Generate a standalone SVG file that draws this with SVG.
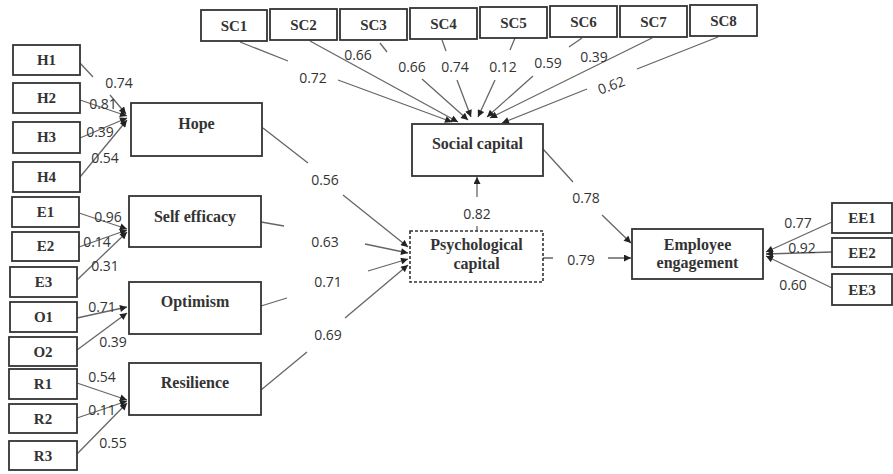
<svg xmlns="http://www.w3.org/2000/svg" width="893" height="474" viewBox="0 0 893 474">
<style>
.box{fill:#fff;stroke:#333;stroke-width:1.8}
.dash{fill:#fff;stroke:#333;stroke-width:1.6;stroke-dasharray:3,2}
.ind{font-family:"Liberation Serif",serif;font-weight:bold;font-size:15px;fill:#333;text-anchor:middle}
.lat{font-family:"Liberation Serif",serif;font-weight:bold;font-size:16px;fill:#333;text-anchor:middle}
.num{font-family:"Open Sans","Liberation Sans",sans-serif;font-size:14px;fill:#333;text-anchor:middle}
.c path{fill:none;stroke:#666;stroke-width:1.3}
</style>
<defs>
<marker id="ah" viewBox="0 0 10 10" refX="10" refY="5" markerWidth="8" markerHeight="7" markerUnits="userSpaceOnUse" orient="auto"><path d="M0,0 L10,5 L0,10 z" fill="#222"/></marker>
</defs>
<rect width="893" height="474" fill="#fff"/>
<g class="c" id="connectors">
<path d="M240,42 L288,61 M338,80 L452,122" marker-end="url(#ah)"/>
<path d="M310,41 L458,122" marker-end="url(#ah)"/>
<path d="M380,43 L387,52 M422,79 L468,120" marker-end="url(#ah)"/>
<path d="M442,40 L446,51 M457,80 L471,117" marker-end="url(#ah)"/>
<path d="M515,38 L510,50 M495,80 L478,117" marker-end="url(#ah)"/>
<path d="M582,38 L569,47 M533,76 L487,117" marker-end="url(#ah)"/>
<path d="M652,38 L490,118" marker-end="url(#ah)"/>
<path d="M718,37 L637,69 M587,89 L502,123" marker-end="url(#ah)"/>
<path d="M80,63 L93,77 M110,95 L126,114" marker-end="url(#ah)"/>
<path d="M80,100 L127,116" marker-end="url(#ah)"/>
<path d="M80,138 L127,118" marker-end="url(#ah)"/>
<path d="M80,177 L127,120" marker-end="url(#ah)"/>
<path d="M79,213 L127,229" marker-end="url(#ah)"/>
<path d="M79,247 L127,230" marker-end="url(#ah)"/>
<path d="M77,280 L127,232" marker-end="url(#ah)"/>
<path d="M77,318 L127,307" marker-end="url(#ah)"/>
<path d="M77,350 L127,313" marker-end="url(#ah)"/>
<path d="M77,383 L127,400" marker-end="url(#ah)"/>
<path d="M77,418 L127,401" marker-end="url(#ah)"/>
<path d="M77,454 L127,403" marker-end="url(#ah)"/>
<path d="M263,128 L308,163 M343,195 L408,247" marker-end="url(#ah)"/>
<path d="M261,222 L284,226 M365,244 L408,253" marker-end="url(#ah)"/>
<path d="M261,306 L287,298 M368,271 L408,259" marker-end="url(#ah)"/>
<path d="M261,390 L307,352 M345,318 L408,265" marker-end="url(#ah)"/>
<path d="M477,231 L477,226 M477,197 L477,177" marker-end="url(#ah)"/>
<path d="M543,149 L573,182 M602,215 L631,243" marker-end="url(#ah)"/>
<path d="M543,258 L553,258 M608,258 L631,258" marker-end="url(#ah)"/>
<path d="M832,222 L766,252" marker-end="url(#ah)"/>
<path d="M832,252 L766,254" marker-end="url(#ah)"/>
<path d="M832,288 L766,256" marker-end="url(#ah)"/>
</g>
<g id="labels">
<text class="num" x="313" y="83">0.72</text>
<text class="num" x="358" y="60">0.66</text>
<text class="num" x="412" y="72">0.66</text>
<text class="num" x="455" y="72">0.74</text>
<text class="num" x="503" y="72">0.12</text>
<text class="num" x="548" y="68">0.59</text>
<text class="num" x="594" y="62">0.39</text>
<text class="num" transform="translate(613,90) rotate(-20)">0.62</text>
<text class="num" x="119" y="88">0.74</text>
<text class="num" x="103" y="109">0.81</text>
<text class="num" x="100" y="137">0.39</text>
<text class="num" x="105" y="163">0.54</text>
<text class="num" x="108" y="222">0.96</text>
<text class="num" x="97" y="247">0.14</text>
<text class="num" x="105" y="271">0.31</text>
<text class="num" x="102" y="312">0.71</text>
<text class="num" x="113" y="347">0.39</text>
<text class="num" x="102" y="382">0.54</text>
<text class="num" x="102" y="415">0.11</text>
<text class="num" x="113" y="448">0.55</text>
<text class="num" x="325" y="185">0.56</text>
<text class="num" x="325" y="247">0.63</text>
<text class="num" x="328" y="287">0.71</text>
<text class="num" x="328" y="340">0.69</text>
<text class="num" x="477" y="219">0.82</text>
<text class="num" x="586" y="203">0.78</text>
<text class="num" x="581" y="265">0.79</text>
<text class="num" x="798" y="228">0.77</text>
<text class="num" x="802" y="253">0.92</text>
<text class="num" x="793" y="290">0.60</text>
</g>
<g id="SC1"><rect class="box" x="201" y="10" width="66" height="31"/><text class="ind" x="234" y="31">SC1</text></g>
<g id="SC2"><rect class="box" x="270" y="9" width="67" height="31"/><text class="ind" x="303.5" y="30">SC2</text></g>
<g id="SC3"><rect class="box" x="340" y="9" width="67" height="31"/><text class="ind" x="373.5" y="30">SC3</text></g>
<g id="SC4"><rect class="box" x="410" y="8" width="67" height="31"/><text class="ind" x="443.5" y="29">SC4</text></g>
<g id="SC5"><rect class="box" x="480" y="7" width="67" height="31"/><text class="ind" x="513.5" y="28">SC5</text></g>
<g id="SC6"><rect class="box" x="550" y="6" width="67" height="31"/><text class="ind" x="583.5" y="27">SC6</text></g>
<g id="SC7"><rect class="box" x="620" y="6" width="67" height="31"/><text class="ind" x="653.5" y="27">SC7</text></g>
<g id="SC8"><rect class="box" x="690" y="5" width="67" height="31"/><text class="ind" x="723.5" y="26">SC8</text></g>
<g id="H1"><rect class="box" x="13" y="45" width="67" height="30"/><text class="ind" x="46.5" y="65">H1</text></g>
<g id="H2"><rect class="box" x="13" y="83" width="67" height="30"/><text class="ind" x="46.5" y="103">H2</text></g>
<g id="H3"><rect class="box" x="13" y="122" width="67" height="31"/><text class="ind" x="46.5" y="142">H3</text></g>
<g id="H4"><rect class="box" x="13" y="162" width="67" height="30"/><text class="ind" x="46.5" y="182">H4</text></g>
<g id="E1"><rect class="box" x="12" y="197" width="67" height="30"/><text class="ind" x="45.5" y="217">E1</text></g>
<g id="E2"><rect class="box" x="12" y="232" width="67" height="29"/><text class="ind" x="45.5" y="251">E2</text></g>
<g id="E3"><rect class="box" x="10" y="267" width="67" height="30"/><text class="ind" x="43.5" y="287">E3</text></g>
<g id="O1"><rect class="box" x="10" y="302" width="67" height="30"/><text class="ind" x="43.5" y="322">O1</text></g>
<g id="O2"><rect class="box" x="9" y="337" width="68" height="29"/><text class="ind" x="43" y="357">O2</text></g>
<g id="R1"><rect class="box" x="9" y="369" width="68" height="30"/><text class="ind" x="43" y="389">R1</text></g>
<g id="R2"><rect class="box" x="9" y="404" width="68" height="29"/><text class="ind" x="43" y="424">R2</text></g>
<g id="R3"><rect class="box" x="9" y="441" width="68" height="29"/><text class="ind" x="43" y="461">R3</text></g>
<g id="Hope"><rect class="box" x="131" y="103" width="131" height="53"/><text class="lat" x="196.5" y="129">Hope</text></g>
<g id="SelfEfficacy"><rect class="box" x="129" y="196" width="132" height="51"/><text class="lat" x="195" y="222">Self efficacy</text></g>
<g id="Optimism"><rect class="box" x="129" y="282" width="132" height="52"/><text class="lat" x="195" y="307">Optimism</text></g>
<g id="Resilience"><rect class="box" x="129" y="363" width="132" height="52"/><text class="lat" x="195" y="388">Resilience</text></g>
<g id="SocialCapital"><rect class="box" x="412" y="124" width="131" height="52"/><text class="lat" x="477.5" y="149">Social capital</text></g>
<g id="PsychologicalCapital"><rect class="dash" x="410" y="231" width="133" height="51"/><text class="lat" x="476.5" y="250">Psychological</text><text class="lat" x="476.5" y="269">capital</text></g>
<g id="EmployeeEngagement"><rect class="box" x="632" y="229" width="131" height="50"/><text class="lat" x="697.5" y="250">Employee</text><text class="lat" x="697.5" y="268">engagement</text></g>
<g id="EE1"><rect class="box" x="832" y="203" width="60" height="30"/><text class="ind" x="862" y="223">EE1</text></g>
<g id="EE2"><rect class="box" x="832" y="238" width="60" height="29"/><text class="ind" x="862" y="258">EE2</text></g>
<g id="EE3"><rect class="box" x="832" y="274" width="60" height="31"/><text class="ind" x="862" y="295">EE3</text></g>
</svg>
